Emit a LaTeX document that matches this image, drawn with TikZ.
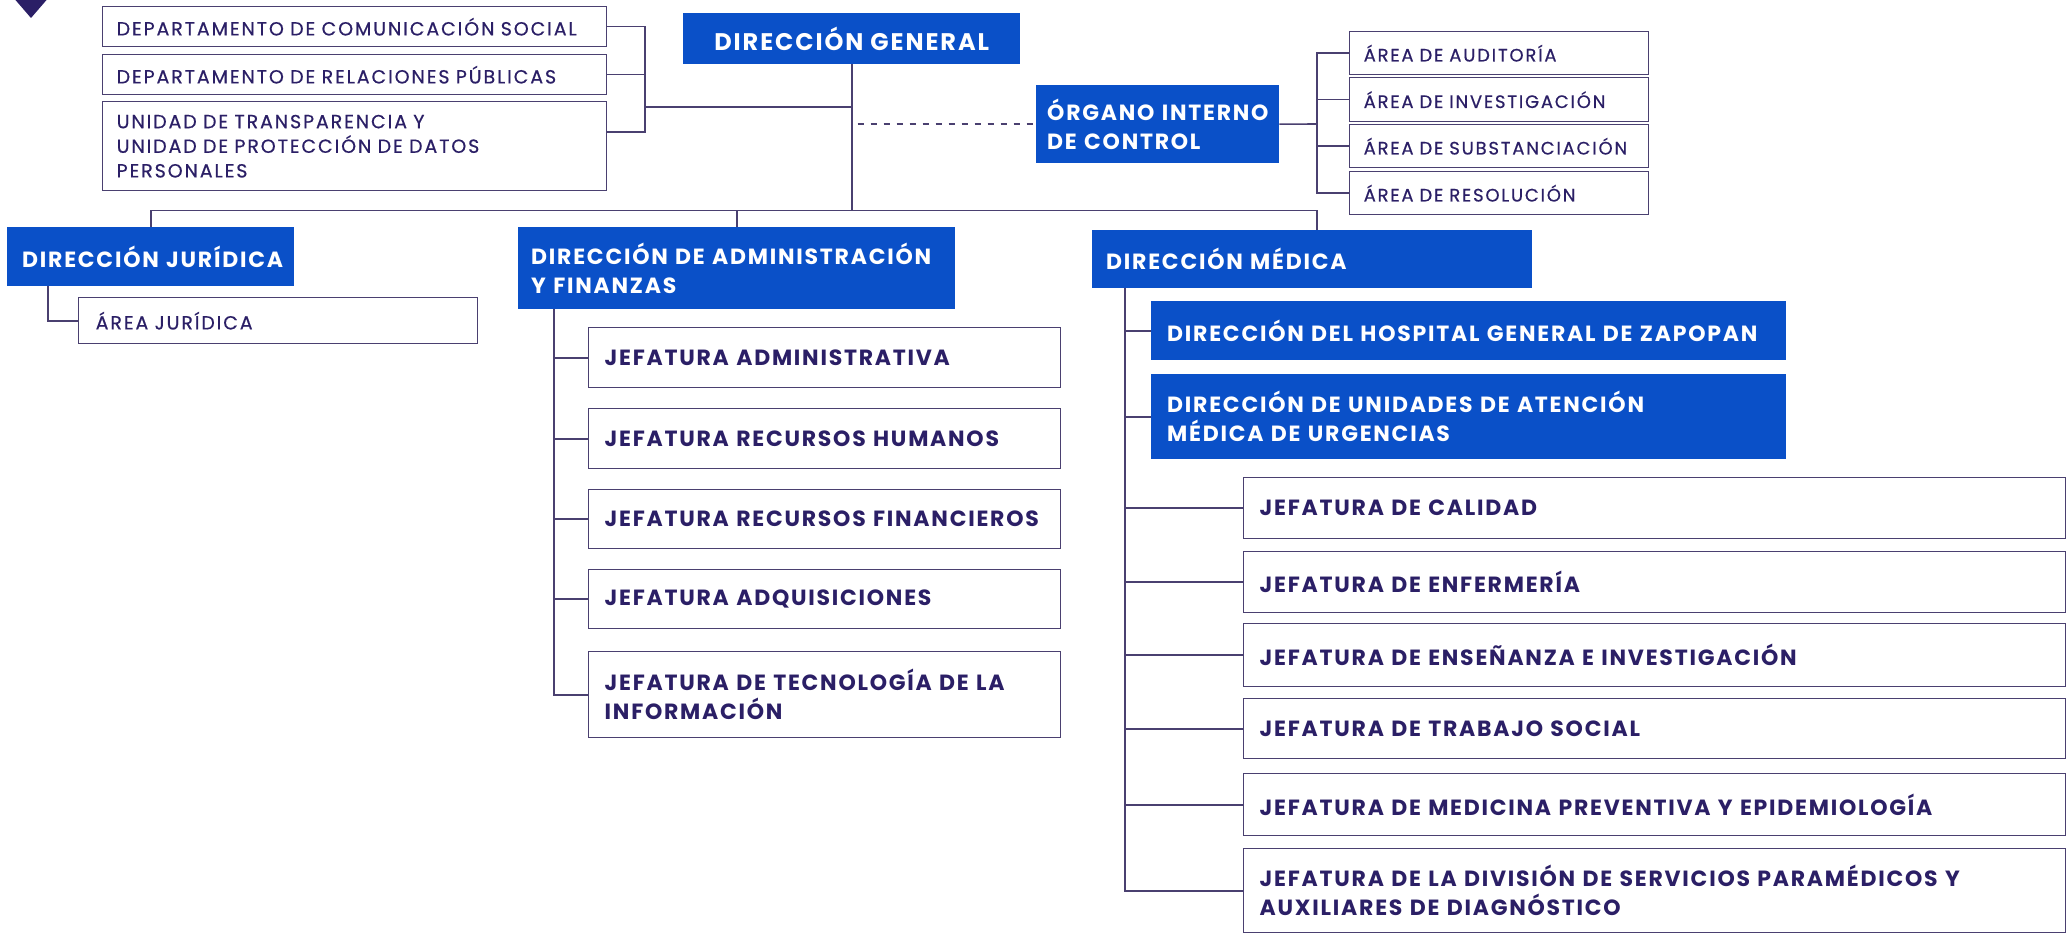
\documentclass[tikz,border=0pt]{standalone}
\usepackage{fontspec}
\setmainfont{Poppins}
\newfontfamily\smf{Poppins}[LetterSpace=10, FakeBold=0.5]
\newfontfamily\bdf{Poppins}[LetterSpace=8]
\usetikzlibrary{calc}
\definecolor{bluec}{HTML}{0A50C8}
\definecolor{txtc}{HTML}{2B1F66}
\definecolor{linec}{HTML}{4A4070}
\begin{document}
\begin{tikzpicture}[x=1pt,y=-1pt,
  ln/.style={draw=linec, line width=1.6pt},
  bb/.style={fill=bluec, text=white, anchor=north west, align=left, inner xsep=14pt, inner ysep=2pt, font=\bdf\bfseries\fontsize{22}{29}\selectfont},
  sm/.style={draw=linec, line width=1.4pt, fill=white, text=txtc, anchor=north west, align=left, inner xsep=14pt, inner ysep=2pt, font=\smf\fontsize{19}{24.6}\selectfont},
  jf/.style={draw=linec, line width=1.4pt, fill=white, text=txtc, anchor=north west, align=left, inner xsep=16pt, inner ysep=2pt, font=\bdf\bfseries\fontsize{22}{29}\selectfont},
]
\useasboundingbox (0,0) rectangle (2072,936);
\fill[white] (0,0) rectangle (2072,936);
\fill[txtc] (12,-4) -- (50,-4) -- (31,18) -- cycle;

% top left small boxes
\node[sm, text width=476pt, minimum height=40pt] (dcs) at (102,6) {\mbox{DEPARTAMENTO DE COMUNICACIÓN SOCIAL}};
\node[sm, text width=476pt, minimum height=40pt] (drp) at (102,54) {\mbox{DEPARTAMENTO DE RELACIONES PÚBLICAS}};
\node[sm, text width=476pt, minimum height=89pt] (ut) at (102,101) {UNIDAD DE TRANSPARENCIA Y\\UNIDAD DE PROTECCIÓN DE DATOS\\PERSONALES};

% top
\node[bb, font=\bdf\bfseries\fontsize{24}{29}\selectfont, align=center, inner xsep=0pt, minimum width=337pt, minimum height=51pt] (dg) at (683,13) {DIRECCIÓN GENERAL};
\node[bb, inner xsep=11pt, text width=221pt, minimum height=78pt] (oic) at (1036,85) {ÓRGANO INTERNO\\DE CONTROL};

% areas
\node[sm, font=\smf\fontsize{18}{20}\selectfont, text width=271pt, minimum height=43pt] (aud) at (1349,31) {ÁREA DE AUDITORÍA};
\node[sm, font=\smf\fontsize{18}{20}\selectfont, text width=271pt, minimum height=44pt] (inv) at (1349,77) {ÁREA DE INVESTIGACIÓN};
\node[sm, font=\smf\fontsize{18}{20}\selectfont, text width=271pt, minimum height=43pt] (sub) at (1349,124) {\mbox{ÁREA DE SUBSTANCIACIÓN}};
\node[sm, font=\smf\fontsize{18}{20}\selectfont, text width=271pt, minimum height=43pt] (res) at (1349,171) {ÁREA DE RESOLUCIÓN};

% level 2
\node[bb, inner xsep=15pt, text width=257pt, minimum height=59pt] (dj) at (7,227) {\mbox{DIRECCIÓN JURÍDICA}};
\node[sm, inner xsep=17pt, text width=365pt, minimum height=46pt] (aj) at (78,297) {ÁREA JURÍDICA};
\node[bb, inner xsep=13pt, text width=411pt, minimum height=82pt] (daf) at (518,227) {\mbox{DIRECCIÓN DE ADMINISTRACIÓN}\\Y FINANZAS};
\node[bb, inner xsep=14pt, text width=412pt, minimum height=58pt] (dm) at (1092,230) {DIRECCIÓN MÉDICA};

% left jefaturas
\node[jf, text width=440pt, minimum height=60pt] (ja) at (588,327) {JEFATURA ADMINISTRATIVA};
\node[jf, text width=440pt, minimum height=60pt] (jrh) at (588,408) {\mbox{JEFATURA RECURSOS HUMANOS}};
\node[jf, text width=440pt, minimum height=59pt] (jrf) at (588,489) {\mbox{JEFATURA RECURSOS FINANCIEROS}};
\node[jf, text width=440pt, minimum height=59pt] (jad) at (588,569) {JEFATURA ADQUISICIONES};
\node[jf, text width=440pt, minimum height=86pt] (jtec) at (588,651) {\mbox{JEFATURA DE TECNOLOGÍA DE LA}\\INFORMACIÓN};

% medical
\node[bb, inner xsep=16pt, text width=603pt, minimum height=59pt] (dhgz) at (1151,301) {\mbox{DIRECCIÓN DEL HOSPITAL GENERAL DE ZAPOPAN}};
\node[bb, inner xsep=16pt, text width=603pt, minimum height=85pt] (duamu) at (1151,374) {DIRECCIÓN DE UNIDADES DE ATENCIÓN\\MÉDICA DE URGENCIAS};
\node[jf, text width=790pt, minimum height=61pt] (cal) at (1243,477) {JEFATURA DE CALIDAD};
\node[jf, text width=790pt, minimum height=61pt] (enf) at (1243,551) {JEFATURA DE ENFERMERÍA};
\node[jf, text width=790pt, minimum height=63pt] (ens) at (1243,623) {JEFATURA DE ENSEÑANZA E INVESTIGACIÓN};
\node[jf, text width=790pt, minimum height=60pt] (ts) at (1243,698) {JEFATURA DE TRABAJO SOCIAL};
\node[jf, text width=790pt, minimum height=62pt] (mp) at (1243,773) {JEFATURA DE MEDICINA PREVENTIVA Y EPIDEMIOLOGÍA};
\node[jf, text width=790pt, minimum height=84pt] (dsp) at (1243,848) {\mbox{JEFATURA DE LA DIVISIÓN DE SERVICIOS PARAMÉDICOS Y}\\AUXILIARES DE DIAGNÓSTICO};

% connectors top-left bracket
\coordinate (bk) at (645,107);
\coordinate (utk) at ($(ut.north east)+(0,31)$);
\draw[ln] (dcs.east) -| (bk);
\draw[ln] (drp.east) -- (drp.east -| bk);
\draw[ln] (utk) -| (bk);
\draw[ln] (bk) -- (bk -| dg.south);
% main vertical and level 2
\coordinate (l2) at ($(dg.south)+(0,146)$);
\draw[ln] (dg.south) -- (l2);
\draw[ln] (dj.north) |- (l2);
\draw[ln] (daf.north) -- (daf.north |- l2);
\coordinate (ob) at (1317,124);
\draw[ln] (ob |- dm.north) |- (l2);
% OIC
\draw[ln, line width=1.4pt, dash pattern=on 6pt off 7pt] ($(dg.south |- oic.west)+(6,0)$) -- (oic.west);
\draw[ln] (oic.east) -- (ob);
\draw[ln] (aud.west) -| (ob);
\draw[ln] (res.west) -| (ob);
\draw[ln] (inv.west) -- (inv.west -| ob);
\draw[ln] (sub.west) -- (sub.west -| ob);
% juridica
\draw[ln] ($(dj.south west)+(41,0)$) |- (aj.west);
% administracion
\coordinate (dv) at ($(daf.south west)+(36,0)$);
\draw[ln] (dv) |- (jtec.west);
\foreach \n in {ja,jrh,jrf,jad} \draw[ln] (\n.west) -- (\n.west -| dv);
% medica
\coordinate (mv) at ($(dm.south west)+(33,0)$);
\draw[ln] (mv) |- (dsp.west);
\foreach \n in {dhgz,duamu,cal,enf,ens,ts,mp} \draw[ln] (\n.west) -- (\n.west -| mv);
\end{tikzpicture}
\end{document}
